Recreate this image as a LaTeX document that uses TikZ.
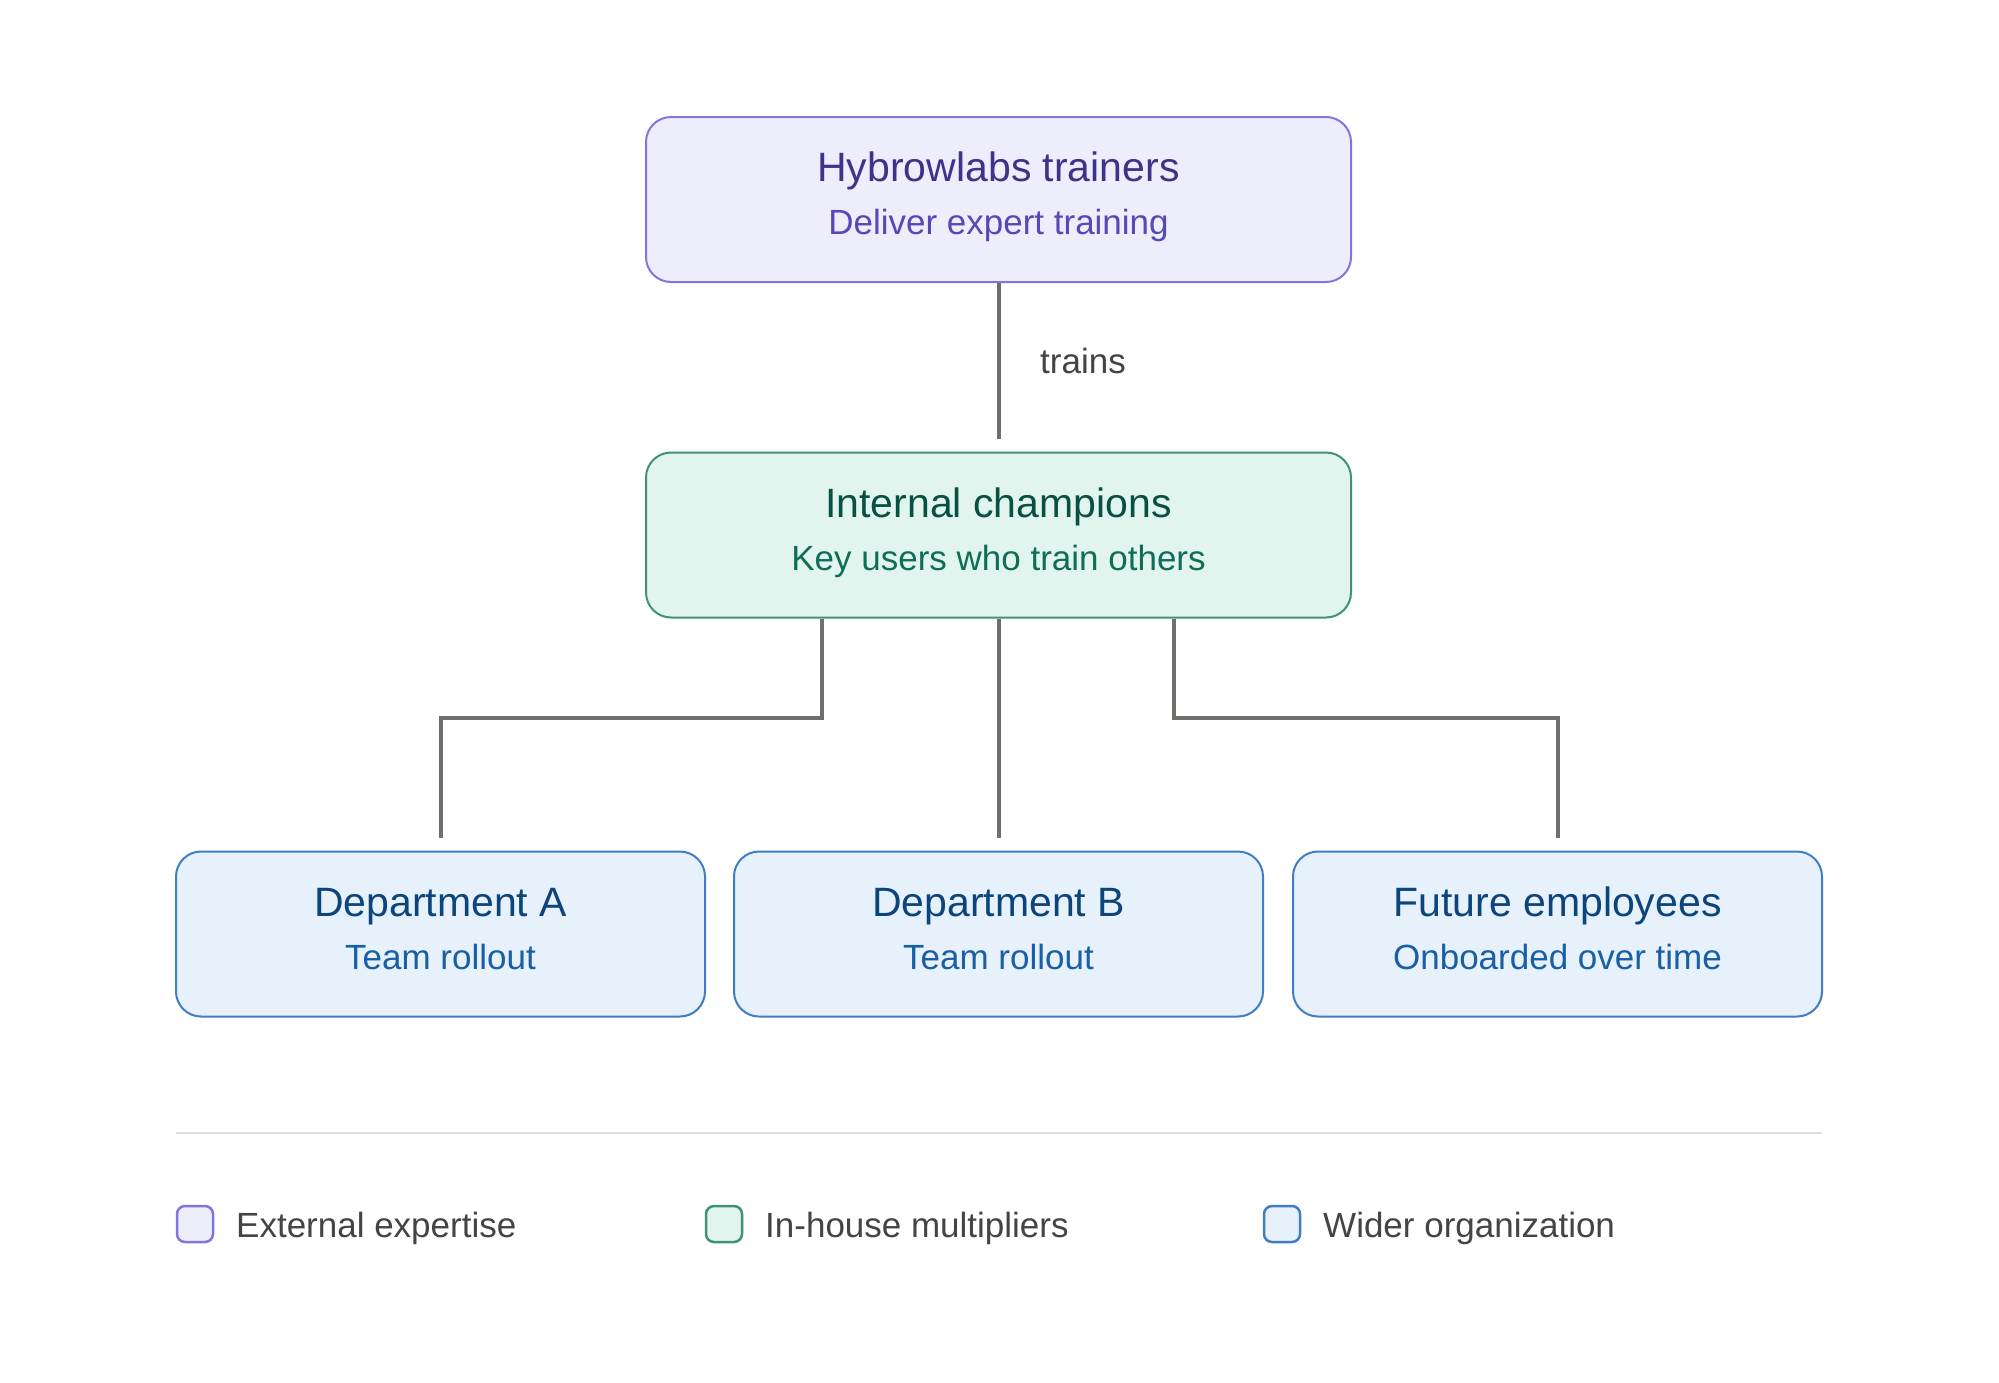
\documentclass[tikz,border=0pt]{standalone}
\usepackage{fontspec}
\setmainfont{Liberation Sans}
\definecolor{pfill}{HTML}{EEEDFC}
\definecolor{pline}{HTML}{7F77DD}
\definecolor{ptitle}{HTML}{3C3489}
\definecolor{psub}{HTML}{534AB7}
\definecolor{gfill}{HTML}{E1F5EE}
\definecolor{gline}{HTML}{3F9278}
\definecolor{gtitle}{HTML}{085041}
\definecolor{gsub}{HTML}{0F6E56}
\definecolor{bfill}{HTML}{E6F1FB}
\definecolor{bline}{HTML}{3F7EC4}
\definecolor{btitle}{HTML}{0C447C}
\definecolor{bsub}{HTML}{185FA5}
\definecolor{conncol}{HTML}{6E6E6A}
\definecolor{legtext}{HTML}{444444}
\definecolor{sepcol}{HTML}{DDDDDD}
\tikzset{
  box/.style={draw, line width=2pt, rounded corners=25pt, minimum width=#1, minimum height=165pt, inner sep=0pt},
  pbox/.style={box=705pt, fill=pfill, draw=pline},
  gbox/.style={box=705pt, fill=gfill, draw=gline},
  bbox/.style={box=529pt, fill=bfill, draw=bline},
  ttl/.style={anchor=base, font=\fontsize{41}{48}\selectfont, inner sep=0pt},
  sub/.style={anchor=base, font=\fontsize{35}{42}\selectfont, inner sep=0pt},
  conn/.style={draw=conncol, line width=4pt},
  legsq/.style={draw, line width=2.5pt, rounded corners=8pt, minimum width=36pt, minimum height=36pt, inner sep=0pt},
  legtxt/.style={anchor=base west, font=\fontsize{35}{42}\selectfont, text=legtext, inner sep=0pt},
}
\begin{document}
\begin{tikzpicture}[x=1pt,y=-1pt]
\useasboundingbox[fill=white] (0,0) rectangle (1999,1382);
% boxes
\node[pbox] (top) at (998.5,199.5) {};
\node[gbox] (mid) at (998.5,535) {};
\node[bbox] (A) at (440.5,934) {};
\node[bbox] (B) at (998.5,934) {};
\node[bbox] (C) at (1557.5,934) {};
% texts
\node[ttl, text=ptitle] (topT) at ([yshift=18pt]top.center) {Hybrowlabs trainers};
\node[sub, text=psub] (topS) at ([yshift=-35pt]top.center) {Deliver expert training};
\node[ttl, text=gtitle] (midT) at ([yshift=18pt]mid.center) {Internal champions};
\node[sub, text=gsub] (midS) at ([yshift=-35pt]mid.center) {Key users who train others};
\node[ttl, text=btitle] (AT) at ([yshift=18pt]A.center) {Department A};
\node[sub, text=bsub] (AS) at ([yshift=-35pt]A.center) {Team rollout};
\node[ttl, text=btitle] (BT) at ([yshift=18pt]B.center) {Department B};
\node[sub, text=bsub] (BS) at ([yshift=-35pt]B.center) {Team rollout};
\node[ttl, text=btitle] (CT) at ([yshift=18pt]C.center) {Future employees};
\node[sub, text=bsub] (CS) at ([yshift=-35pt]C.center) {Onboarded over time};
% connector end points
\coordinate (midIn) at ([yshift=13pt]mid.north);
\coordinate (AIn) at ([yshift=13pt]A.north);
\coordinate (BIn) at ([yshift=13pt]B.north);
\coordinate (CIn) at ([yshift=13pt]C.north);
\coordinate (m1) at ([xshift=-176.5pt]mid.south);
\coordinate (m3) at ([xshift=175.5pt]mid.south);
% connectors
\draw[conn] (top.south) -- (midIn);
\node[legtxt, text=legtext] (lbl) at (1040,373) {trains};
\draw[conn] (m1) -- ++(0,99) -| (AIn);
\draw[conn] (mid.south) -- (BIn);
\draw[conn] (m3) -- ++(0,99) -| (CIn);
% separator
\coordinate (s1) at (176,1133);
\coordinate (s2) at (1822,1133);
\draw[sepcol, line width=1.5pt] (s1) -- (s2);
% legend
\node[legsq, fill=pfill, draw=pline] (L1) at (195,1224) {};
\node[legtxt] (L1t) at (236,1237) {External expertise};
\node[legsq, fill=gfill, draw=gline] (L2) at (724,1224) {};
\node[legtxt] (L2t) at (765,1237) {In-house multipliers};
\node[legsq, fill=bfill, draw=bline] (L3) at (1282,1224) {};
\node[legtxt] (L3t) at (1323,1237) {Wider organization};
\end{tikzpicture}
\end{document}
